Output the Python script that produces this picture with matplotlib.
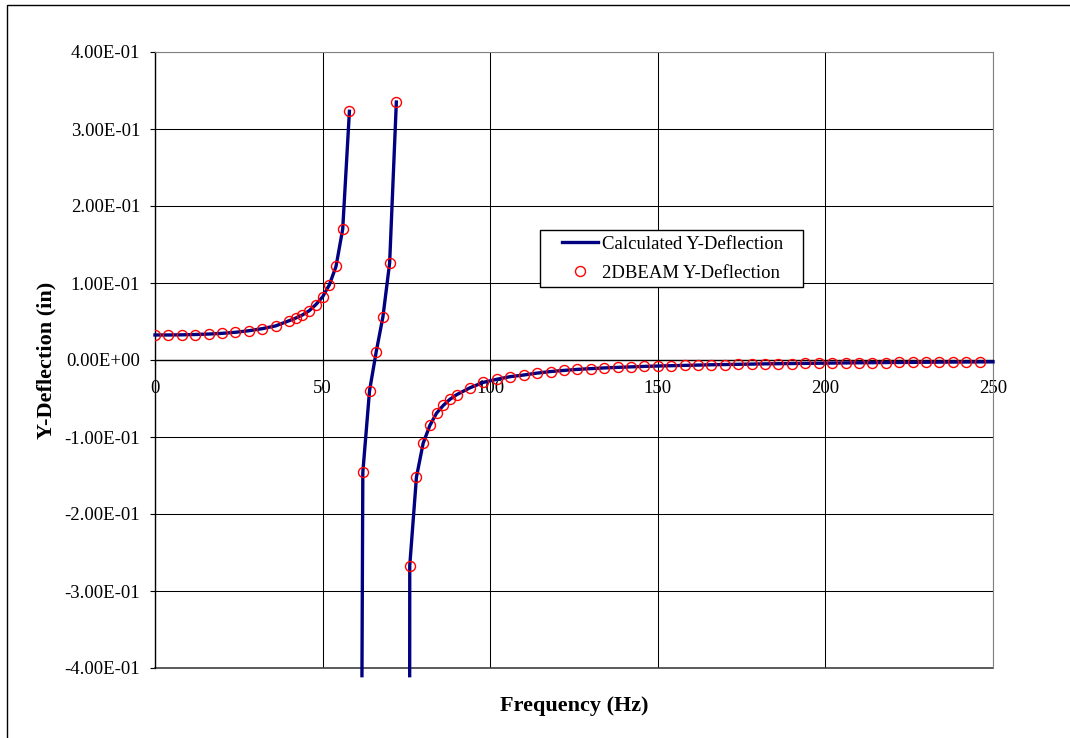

# Y-deflection vs frequency: calculated curve and 2DBEAM points

# imports
import numpy as np
import matplotlib
matplotlib.use("Agg")
from matplotlib import pyplot as plt
from matplotlib.lines import Line2D
from matplotlib.patches import Rectangle
from matplotlib.legend_handler import HandlerLine2D
from matplotlib.ticker import FuncFormatter


# 2DBEAM points, first branch (below the first resonance)
freq_low = [0, 4, 8, 12, 16, 20, 24, 28, 32, 36, 40,
            42, 44, 46, 48, 50, 52, 54, 56, 58]
defl_low = [0.0325, 0.0325, 0.0327, 0.0331, 0.0337, 0.0346, 0.0360, 0.0380,
            0.0407, 0.0443, 0.0510, 0.0545, 0.0585, 0.0640, 0.0720, 0.0820,
            0.0975, 0.1215, 0.1700, 0.3230]

# between the two resonances
freq_mid = [62, 64, 66, 68, 70, 72]
defl_mid = [-0.146, -0.040, 0.0108, 0.0562, 0.126, 0.335]

# above the second resonance
freq_high = [76, 78, 80, 82, 84, 86, 88, 90, 94, 98, 102, 106, 110, 114, 118,
             122, 126, 130, 134, 138, 142, 146, 150, 154, 158, 162, 166, 170,
             174, 178, 182, 186, 190, 194, 198, 202, 206, 210, 214, 218, 222,
             226, 230, 234, 238, 242, 246]
defl_high = [-0.267, -0.152, -0.108, -0.085, -0.069, -0.059, -0.051, -0.045,
             -0.036, -0.029, -0.025, -0.0216, -0.0195, -0.0170, -0.0150,
             -0.0135, -0.0122, -0.0112, -0.0103, -0.0096, -0.0089, -0.0083,
             -0.0078, -0.0074, -0.0070, -0.0066, -0.0062, -0.0059, -0.0056,
             -0.0053, -0.0050, -0.0048, -0.0046, -0.0044, -0.0042, -0.0040,
             -0.0038, -0.0036, -0.0035, -0.0033, -0.0032, -0.0031, -0.0029,
             -0.0028, -0.0027, -0.0026, -0.0025]

# extra points of the calculated curve (near the asymptotes and the end)
calc_mid_start = (61.74, -0.41)
calc_high_start = (75.98, -0.41)
calc_end = (250, -0.0024)

# axis ticks
x_ticks = [0, 50, 100, 150, 200, 250]
y_ticks = [-0.4, -0.3, -0.2, -0.1, 0.0, 0.1, 0.2, 0.3, 0.4]


plt.rcParams["font.family"] = "Liberation Serif"
W, H = 1070, 738
fig = plt.figure(figsize=(W / 100, H / 100), dpi=100)
ax = fig.add_axes([155 / W, (H - 668) / H, (993 - 155) / W, (668 - 52) / H])

# outer chart border (only top and left show in the picture)
fig.add_artist(Rectangle((7 / W, -1), 2, 1 + (H - 5) / H, transform=fig.transFigure,
                         fill=False, edgecolor="black", lw=1))

# calculated curve, three branches
line_color = "#000080"
ax.plot(freq_low, defl_low, color=line_color, lw=2.4, clip_on=False, zorder=3,
        label="Calculated Y-Deflection")
ax.plot([calc_mid_start[0]] + freq_mid, [calc_mid_start[1]] + defl_mid,
        color=line_color, lw=2.4, clip_on=False, zorder=3)
ax.plot([calc_high_start[0]] + freq_high + [calc_end[0]],
        [calc_high_start[1]] + defl_high + [calc_end[1]],
        color=line_color, lw=2.4, clip_on=False, zorder=3)

# 2DBEAM points
ax.plot(freq_low + freq_mid + freq_high, defl_low + defl_mid + defl_high,
        linestyle="none", marker="o", markersize=7.2, markerfacecolor="none",
        markeredgecolor="red", markeredgewidth=1, zorder=4, label="2DBEAM Y-Deflection")

# axes
ax.set_xlim(0, 250)
ax.set_ylim(-0.4, 0.4)
ax.set_xticks(x_ticks)
ax.set_yticks(np.round(y_ticks, 2))
ax.yaxis.set_major_formatter(FuncFormatter(lambda v, p: f"{v + 0.0:.2E}"))
ax.spines["bottom"].set_position(("data", 0))
ax.spines["bottom"].set_linewidth(1)
ax.spines["left"].set_linewidth(1)
ax.spines["top"].set_color("#808080")
ax.spines["right"].set_color("#808080")
# bottom edge of the plot area (the x axis spine sits at zero)
ax.axhline(-0.4, color="#404040", lw=1.2, clip_on=False)
ax.tick_params(axis="y", direction="out", length=3.6, width=0.8, pad=7, labelsize=13.5)
ax.tick_params(axis="x", direction="out", length=3.6, width=0.8, pad=11, labelsize=13.5)
ax.grid(True, color="black", lw=0.75)
ax.set_axisbelow(True)

ax.set_xlabel("Frequency (Hz)", fontsize=16, fontweight="bold")
ax.set_ylabel("Y-Deflection (in)", fontsize=16, fontweight="bold")
ax.xaxis.set_label_coords(0.5, -0.046)
ax.yaxis.set_label_coords(-0.117, 0.5)

# legend box
leg = ax.legend(loc="upper left", mode="expand",
                bbox_to_anchor=(540 / W, 1 - 288 / H, (803 - 540) / W, 58 / H),
                bbox_transform=fig.transFigure, borderaxespad=0, borderpad=0.3,
                handlelength=2.8, handletextpad=0.22, labelspacing=0.62,
                fontsize=13.5, fancybox=False, framealpha=1, edgecolor="black",
                handler_map={Line2D: HandlerLine2D(xpad=0.9)})
leg.get_frame().set_linewidth(1)

plt.savefig("out.png", dpi=100)
